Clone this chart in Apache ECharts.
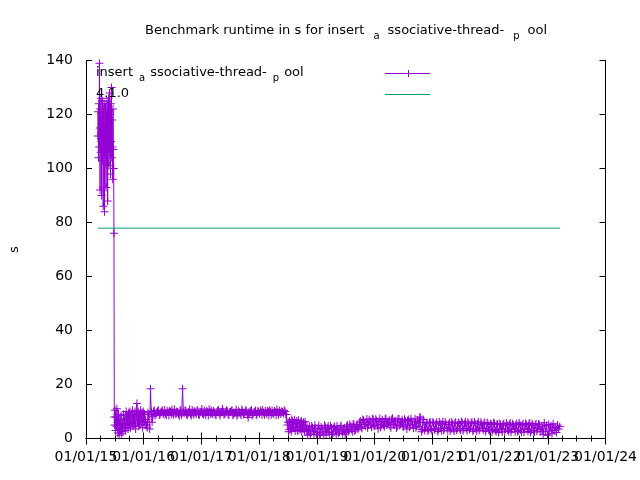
<!DOCTYPE html>
<html>
<head>
<meta charset="utf-8">
<script src="https://cdn.jsdelivr.net/npm/echarts@6/dist/echarts.min.js"></script>
<style>html,body{margin:0;padding:0;background:#fff}#c{width:640px;height:480px}</style>
</head>
<body>
<div id="c"></div>
<script>
var seriesName = 'insert_associative-thread-_pool';
var refName = '4.1.0';
var xTickLabels = ['01/01/15','01/01/16','01/01/17','01/01/18','01/01/19','01/01/20','01/01/21','01/01/22','01/01/23','01/01/24'];
var runDates = [
'2015-03-17','2015-03-19','2015-03-21','2015-03-23','2015-03-25','2015-03-27','2015-03-29','2015-03-31','2015-04-02','2015-04-04','2015-04-06','2015-04-08','2015-04-10','2015-04-12','2015-04-14','2015-04-16','2015-04-18','2015-04-20','2015-04-22','2015-04-24','2015-04-26','2015-04-28','2015-04-30','2015-05-02','2015-05-04','2015-05-06','2015-05-08','2015-05-10','2015-05-12','2015-05-14','2015-05-16','2015-05-18','2015-05-20','2015-05-22','2015-05-24','2015-05-26','2015-05-28','2015-05-30','2015-06-01','2015-06-03','2015-06-05','2015-06-07','2015-06-09','2015-06-11','2015-06-13','2015-06-15','2015-06-17','2015-06-19','2015-06-21','2015-06-23','2015-06-25','2015-06-27','2015-06-29',
'2015-07-01','2015-07-04','2015-07-07','2015-07-10','2015-07-13','2015-07-16','2015-07-19','2015-07-22','2015-07-26','2015-07-30','2015-08-03','2015-08-07','2015-08-11','2015-08-15','2015-08-19','2015-08-23','2015-08-27','2015-08-31','2015-09-04','2015-09-08','2015-09-12','2015-09-16','2015-09-20','2015-09-24','2015-09-28','2015-10-02','2015-10-06','2015-10-10','2015-10-14','2015-10-18','2015-10-22','2015-10-26','2015-10-30','2015-11-03','2015-11-07','2015-11-11','2015-11-15','2015-11-19','2015-11-23','2015-11-27','2015-12-01','2015-12-05','2015-12-09','2015-12-13','2015-12-17','2015-12-21','2015-12-25','2015-12-29','2016-01-02','2016-01-06','2016-01-10',
'2016-01-13','2016-01-23','2016-02-03','2016-02-13','2016-02-23','2016-03-03','2016-03-13','2016-03-23','2016-04-03','2016-04-13','2016-04-23','2016-05-03','2016-05-13','2016-05-23','2016-06-03','2016-06-13','2016-06-23','2016-07-03','2016-07-13','2016-07-23','2016-08-03','2016-08-13','2016-08-23','2016-09-03','2016-09-13','2016-09-23','2016-10-03','2016-10-13','2016-10-23','2016-11-03','2016-11-13','2016-11-23','2016-12-03','2016-12-13','2016-12-23',
'2017-01-03','2017-01-13','2017-01-23','2017-02-03','2017-02-13','2017-02-23','2017-03-03','2017-03-13','2017-03-23','2017-04-03','2017-04-13','2017-04-23','2017-05-03','2017-05-13','2017-05-23','2017-06-03','2017-06-13','2017-06-23','2017-07-03','2017-07-13','2017-07-23','2017-08-03','2017-08-13','2017-08-23','2017-09-03','2017-09-13','2017-09-23','2017-10-03','2017-10-13','2017-10-23','2017-11-03','2017-11-13','2017-11-23','2017-12-03','2017-12-13','2017-12-23',
'2018-01-03','2018-01-13','2018-01-23','2018-02-03','2018-02-13','2018-02-23','2018-03-03','2018-03-13','2018-03-23','2018-04-03','2018-04-13','2018-04-23','2018-05-03','2018-05-13','2018-05-23','2018-06-03','2018-06-13','2018-06-23',
'2018-06-28','2018-07-05','2018-07-12','2018-07-19','2018-07-26','2018-08-02','2018-08-09','2018-08-16','2018-08-23','2018-08-30','2018-09-06','2018-09-13','2018-09-20','2018-09-27','2018-10-04','2018-10-11','2018-10-18',
'2018-10-25','2018-11-04','2018-11-14','2018-11-24','2018-12-04','2018-12-14','2018-12-24','2019-01-03','2019-01-13','2019-01-23','2019-02-03','2019-02-13','2019-02-23','2019-03-03','2019-03-13','2019-03-23','2019-04-03','2019-04-13','2019-04-23','2019-05-03','2019-05-13','2019-05-23','2019-06-03','2019-06-13','2019-06-23','2019-07-03','2019-07-13','2019-07-23','2019-08-03','2019-08-13','2019-08-23','2019-09-03','2019-09-13',
'2019-09-23','2019-10-03','2019-10-13','2019-10-23','2019-11-03','2019-11-13','2019-11-23','2019-12-03','2019-12-13','2019-12-23','2020-01-03','2020-01-13','2020-01-23','2020-02-03','2020-02-13','2020-02-23','2020-03-03','2020-03-13','2020-03-23','2020-04-03','2020-04-13','2020-04-23','2020-05-03','2020-05-13','2020-05-23','2020-06-03','2020-06-13','2020-06-23','2020-07-03','2020-07-13','2020-07-23','2020-08-03','2020-08-13','2020-08-23','2020-09-03','2020-09-13','2020-09-23','2020-10-03',
'2020-10-13','2020-10-23','2020-11-03','2020-11-13','2020-11-23','2020-12-03','2020-12-13','2020-12-23','2021-01-03','2021-01-13','2021-01-23','2021-02-03','2021-02-13','2021-02-23','2021-03-03','2021-03-13','2021-03-23','2021-04-03','2021-04-13','2021-04-23','2021-05-03','2021-05-13','2021-05-23','2021-06-03','2021-06-13','2021-06-23','2021-07-03','2021-07-13','2021-07-23','2021-08-03','2021-08-13','2021-08-23','2021-09-03','2021-09-13','2021-09-23','2021-10-03','2021-10-13','2021-10-23','2021-11-03','2021-11-13','2021-11-23','2021-12-03','2021-12-13','2021-12-23',
'2022-01-03','2022-01-13','2022-01-23','2022-02-03','2022-02-13','2022-02-23','2022-03-03','2022-03-13','2022-03-23','2022-04-03','2022-04-13','2022-04-23','2022-05-03','2022-05-13','2022-05-23','2022-06-03','2022-06-13','2022-06-23','2022-07-03','2022-07-13','2022-07-23','2022-08-03','2022-08-13','2022-08-23','2022-09-03','2022-09-13','2022-09-23','2022-10-03','2022-10-13','2022-10-23','2022-11-03','2022-11-13',
'2022-11-25','2022-12-02','2022-12-09','2022-12-16','2022-12-23','2022-12-30','2023-01-06','2023-01-13','2023-01-20','2023-01-27','2023-02-03','2023-02-10','2023-02-17','2023-02-24','2023-03-03','2023-03-10','2023-03-17'
];
var runValues = [
112,121,104,124,108,139,115,92,122,106,126,110,90,119,103,125,113,86,121,107,124,84,116,105,123,111,93,120,102,125,114,88,122,108,126,101,117,128,106,120,98,124,110,130,104,118,108,96,122,107,100,76,8,
5,10.5,3,8,4.5,11,6,2,9,1.2,7,3,8.5,1.8,5.5,2.5,9,4,7.5,3,10,5,8,3.5,9.5,5,10,4,8.5,6,10.5,4.5,9,5.5,10,3.5,8,13,6,10,4.5,9,5,10.5,6.5,9.5,4,10,6,9,5,
7,4,9,18.4,6,10,8.5,9.6,10.5,8.8,9.9,9.2,10.6,8.6,9.7,10.2,8.9,9.5,10.8,9.0,9.8,8.3,10.1,18.4,9.3,10.4,8.7,9.9,9.1,10.6,8.8,9.7,10.3,9.0,9.6,
10.9,8.9,9.4,10.2,8.5,9.8,10.5,9.1,9.7,8.6,10.3,9.2,9.9,11.0,8.8,9.5,10.1,8.7,9.8,10.4,9.0,9.6,8.4,10.2,9.3,10.7,8.9,9.7,10.0,7.8,9.4,10.5,9.1,9.8,8.6,10.3,
9.2,9.9,10.6,8.8,9.5,10.2,8.5,9.7,10.4,9.0,9.8,10.7,8.7,9.6,10.1,9.3,10.0,8.9,
5,2.5,6.5,3.5,7,4,6,2.8,5.5,3,6.8,4.5,6,2.5,5,3.5,6.2,
3,1.2,4.5,2,4,1.5,3.8,2.2,4.8,1.8,3.5,1.2,4.2,2.5,4.6,1.5,3.9,2.0,4.4,1.4,3.6,2.4,4.8,1.8,4.0,2.2,5.0,3.0,4.5,2.5,5.2,3.2,5.0,
4,6.5,3.8,6.8,4.5,7.2,5.0,6.4,4.2,7.0,4.8,6.6,3.6,7.4,5.2,6.3,4.4,7.1,5.5,6.8,4.0,7.5,5.1,6.2,4.6,7.3,5.4,6.9,4.3,6.5,3.5,7.0,4.9,6.4,3.8,7.2,4.5,6.0,
8,2.5,7,3,5.5,2.8,5.8,3.5,6.0,3.2,5.4,2.6,6.2,3.8,5.6,3.0,6.0,4.0,5.2,2.8,6.1,3.4,5.7,3.1,5.9,3.6,6.3,2.9,5.5,3.7,6.0,3.3,5.8,2.7,6.1,3.5,5.4,3.0,6.0,3.9,5.6,2.6,5.9,3.2,
5.5,2.4,5.8,3.0,5.3,2.2,5.6,3.4,5.0,2.5,5.7,3.1,5.2,2.3,5.5,3.6,5.1,2.6,5.8,3.2,4.9,2.4,5.6,3.5,5.3,2.2,5.5,3.0,5.0,2.7,5.4,3.3,
4.5,1.5,5.8,2.5,4.8,1.2,5.2,2.8,4.6,1.8,5.5,3.0,4.2,2.2,5.0,3.5,4.4
];
// additional runs between the ones above
var moreDates = [
'2016-01-18','2016-01-28','2016-02-08','2016-02-18','2016-02-28','2016-03-08','2016-03-18','2016-03-28','2016-04-08','2016-04-18','2016-04-28','2016-05-08','2016-05-18','2016-05-28','2016-06-08','2016-06-18','2016-06-28','2016-07-08','2016-07-18','2016-07-28','2016-08-08','2016-08-18','2016-08-28','2016-09-08','2016-09-18','2016-09-28','2016-10-08','2016-10-18','2016-10-28','2016-11-08','2016-11-18','2016-11-28','2016-12-08','2016-12-18','2016-12-28',
'2017-01-08','2017-01-18','2017-01-28','2017-02-08','2017-02-18','2017-02-28','2017-03-08','2017-03-18','2017-03-28','2017-04-08','2017-04-18','2017-04-28','2017-05-08','2017-05-18','2017-05-28','2017-06-08','2017-06-18','2017-06-28','2017-07-08','2017-07-18','2017-07-28','2017-08-08','2017-08-18','2017-08-28','2017-09-08','2017-09-18','2017-09-28','2017-10-08','2017-10-18','2017-10-28','2017-11-08','2017-11-18','2017-11-28','2017-12-08','2017-12-18','2017-12-28',
'2018-01-08','2018-01-18','2018-01-28','2018-02-08','2018-02-18','2018-02-28','2018-03-08','2018-03-18','2018-03-28','2018-04-08','2018-04-18','2018-04-28','2018-05-08','2018-05-18','2018-05-28','2018-06-08','2018-06-18',
'2018-07-02','2018-07-09','2018-07-16','2018-07-23','2018-07-30','2018-08-06','2018-08-13','2018-08-20','2018-08-27','2018-09-03','2018-09-10','2018-09-17','2018-09-24','2018-10-01','2018-10-08','2018-10-15','2018-10-21',
'2018-10-30','2018-11-09','2018-11-19','2018-11-29','2018-12-09','2018-12-19','2018-12-29',
'2019-01-08','2019-01-18','2019-01-28','2019-02-08','2019-02-18','2019-02-28','2019-03-08','2019-03-18','2019-03-28','2019-04-08','2019-04-18','2019-04-28','2019-05-08','2019-05-18','2019-05-28','2019-06-08','2019-06-18','2019-06-28','2019-07-08','2019-07-18','2019-07-28','2019-08-08','2019-08-18','2019-08-28','2019-09-08','2019-09-18','2019-09-28','2019-10-08','2019-10-18','2019-10-28','2019-11-08','2019-11-18','2019-11-28','2019-12-08','2019-12-18','2019-12-28',
'2020-01-08','2020-01-18','2020-01-28','2020-02-08','2020-02-18','2020-02-28','2020-03-08','2020-03-18','2020-03-28','2020-04-08','2020-04-18','2020-04-28','2020-05-08','2020-05-18','2020-05-28','2020-06-08','2020-06-18','2020-06-28','2020-07-08','2020-07-18','2020-07-28','2020-08-08','2020-08-18','2020-08-28','2020-09-08','2020-09-18','2020-09-28','2020-10-08','2020-10-18','2020-10-28','2020-11-08','2020-11-18','2020-11-28','2020-12-08','2020-12-18','2020-12-28',
'2021-01-08','2021-01-18','2021-01-28','2021-02-08','2021-02-18','2021-02-28','2021-03-08','2021-03-18','2021-03-28','2021-04-08','2021-04-18','2021-04-28','2021-05-08','2021-05-18','2021-05-28','2021-06-08','2021-06-18','2021-06-28','2021-07-08','2021-07-18','2021-07-28','2021-08-08','2021-08-18','2021-08-28','2021-09-08','2021-09-18','2021-09-28','2021-10-08','2021-10-18','2021-10-28','2021-11-08','2021-11-18','2021-11-28','2021-12-08','2021-12-18','2021-12-28',
'2022-01-08','2022-01-18','2022-01-28','2022-02-08','2022-02-18','2022-02-28','2022-03-08','2022-03-18','2022-03-28','2022-04-08','2022-04-18','2022-04-28','2022-05-08','2022-05-18','2022-05-28','2022-06-08','2022-06-18','2022-06-28','2022-07-08','2022-07-18','2022-07-28','2022-08-08','2022-08-18','2022-08-28','2022-09-08','2022-09-18','2022-09-28','2022-10-08','2022-10-18','2022-10-28','2022-11-08','2022-11-18'
];
var moreValues = [
5,9.5,3.5,10,8.2,10.4,9.0,10.1,8.7,9.6,10.5,8.9,9.3,10.3,8.5,9.9,10.7,8.8,9.4,10.0,9.1,10.6,8.6,9.8,10.2,8.9,9.5,10.8,8.4,9.6,10.1,9.0,10.5,8.7,9.9,
9.2,10.4,8.6,9.7,10.8,9.0,9.4,10.2,8.8,9.9,10.6,8.5,9.6,10.0,9.1,10.5,8.9,9.8,10.3,8.7,9.5,10.7,9.0,9.7,8.6,10.1,9.3,10.6,8.8,9.9,10.2,8.5,9.6,10.4,9.1,9.8,
10.5,8.7,9.6,10.3,9.0,9.9,10.6,8.8,9.4,10.2,8.6,9.7,10.4,9.1,9.8,10.5,8.9,
6.0,3.2,5.8,2.6,6.4,3.8,6.9,4.2,6.5,2.9,5.6,3.3,6.6,3.9,6.0,2.7,4.8,
4.2,3.5,1.6,4.6,2.6,4.9,1.4,
3.7,1.3,4.3,2.4,4.9,1.7,3.8,2.2,4.7,1.6,4.1,2.7,4.6,1.9,4.3,2.8,3.4,1.6,4.4,2.6,5.3,3.4,5.4,2.8,4.6,3.4,6.0,4.3,7.0,5.2,6.0,3.9,6.9,5.3,7.3,4.5,
7.1,5.0,6.2,4.1,6.9,4.7,7.4,5.0,6.1,4.6,7.0,5.3,6.6,3.9,7.2,4.8,6.1,4.5,7.1,5.0,6.7,4.2,7.3,5.1,6.2,4.0,6.8,4.4,7.6,3.3,6.0,3.9,5.9,3.3,6.1,3.0,
5.7,3.6,6.0,3.3,5.5,2.9,6.2,3.7,5.3,3.0,5.9,3.5,5.4,2.7,6.0,3.8,5.6,3.1,5.8,3.5,6.2,3.0,5.5,3.8,6.0,3.2,5.6,2.8,6.1,3.6,5.3,3.1,5.9,3.7,5.5,2.9,
5.2,3.3,5.6,2.6,5.4,3.2,5.1,2.4,5.6,3.5,5.0,2.6,5.7,3.3,4.9,2.5,5.6,3.0,5.2,2.3,5.5,3.4,5.1,2.6,5.7,3.1,4.8,2.4,5.5,3.6,5.1,2.5
];
var refDates = ['2015-03-17','2023-03-20'];
var refValues = [77.9, 77.9];

var F = 'DejaVu Sans';
var TF = 13, SF = 10;
var purple = '#9400d3', green = '#009e73';
var xMin = Date.UTC(2015,0,1), xMax = Date.UTC(2024,0,1);
var xInterval = (xMax - xMin) / (xTickLabels.length - 1);
function ts(s){ return Date.parse(s + 'T00:00:00Z'); }
var runData = runDates.map(function(d,i){ return [ts(d), runValues[i]]; })
  .concat(moreDates.map(function(d,i){ return [ts(d), moreValues[i]]; }))
  .sort(function(a,b){ return a[0] - b[0]; });
var refData = refDates.map(function(d,i){ return [ts(d), refValues[i]]; });
var plus = 'path://M3.5,0h1v3.5h3.5v1h-3.5v3.5h-1v-3.5h-3.5v-1h3.5z';
var subPad = [0, 5, 0, 6];
var titleSubPad = [0, 8, 0, 9];
var subStyle = { fontSize: SF, fontFamily: F, color: '#000', verticalAlign: 'bottom', lineHeight: 21, padding: subPad };
var titleSubStyle = { fontSize: SF, fontFamily: F, color: '#000', verticalAlign: 'bottom', lineHeight: 21, padding: titleSubPad };
var keySubStyle = { fontSize: SF, fontFamily: F, fill: '#000', verticalAlign: 'bottom', lineHeight: 21, padding: subPad };
var richLabel = 'insert{sub|a}ssociative-thread-{sub|p}ool';
var titlePrefix = 'Benchmark runtime in s for ';

var cv = document.createElement('canvas').getContext('2d');
function mw(t, s){ cv.font = s + 'px "' + F + '"'; return cv.measureText(t).width; }
function labelW(pad){ return mw('insert', TF) + mw('ssociative-thread-', TF) + mw('ool', TF) + mw('a', SF) + mw('p', SF) + 2 * (pad[1] + pad[3]); }
var titleW = mw(titlePrefix, TF) + labelW(titleSubPad);
var titleCenter = 346;

// key (legend) layout, gnuplot style: text on the left, sample to the right
var keyTextX = 96, keyRowY = [73, 94], keySampleX = [385, 430];
function keyText(txt, y){
  return { type: 'text', x: keyTextX, y: y, z: 100, silent: true,
    style: { text: txt, fontSize: TF, fontFamily: F, fill: '#000', align: 'left', verticalAlign: 'middle', lineHeight: 21, rich: { sub: keySubStyle } } };
}
function keyLine(y, color){
  return { type: 'line', z: 100, silent: true, shape: { x1: keySampleX[0], y1: y + 0.5, x2: keySampleX[1], y2: y + 0.5 }, style: { stroke: color, lineWidth: 1 } };
}
var midX = Math.round((keySampleX[0] + keySampleX[1]) / 2) + 0.5;

var axisLine = { show: true, lineStyle: { color: '#000', width: 1 } };
function xIdx(v){ return Math.round((v - xMin) / xInterval); }
function xLabEven(v){ var i = xIdx(v); return (i % 2 === 0 && xTickLabels[i]) ? xTickLabels[i] : ''; }
function xLabOdd(v){ var i = xIdx(v); return (i % 2 === 1 && xTickLabels[i]) ? xTickLabels[i] : ''; }
var xLabelStyle = { fontSize: 14, fontFamily: F, color: '#000', margin: 12, hideOverlap: false };

var chart = echarts.init(document.getElementById('c'), null, { renderer: 'canvas' });
chart.setOption({
  animation: false,
  backgroundColor: '#fff',
  title: {
    text: titlePrefix + richLabel,
    left: Math.round(titleCenter - titleW / 2), top: 15, padding: [5, 0, 5, 0],
    textStyle: { fontSize: TF, fontWeight: 'normal', color: '#000', fontFamily: F, lineHeight: 21, rich: { sub: titleSubStyle } }
  },
  graphic: [
    keyText(richLabel, keyRowY[0]),
    keyText(refName, keyRowY[1]),
    keyLine(keyRowY[0], purple),
    { type: 'line', z: 100, silent: true, shape: { x1: midX, y1: keyRowY[0] - 3, x2: midX, y2: keyRowY[0] + 4 }, style: { stroke: purple, lineWidth: 1 } },
    keyLine(keyRowY[1], green)
  ],
  grid: { left: 85, right: 31, top: 60.5, bottom: 41.5 },
  xAxis: [{
    type: 'value', min: xMin, max: xMax, interval: xInterval,
    axisLine: axisLine, splitLine: { show: false },
    axisTick: { inside: true, length: 6, lineStyle: { color: '#000' } },
    minorTick: { show: true, splitNumber: 4, length: 3, lineStyle: { color: '#000' } },
    axisLabel: Object.assign({ formatter: xLabEven, showMinLabel: true, showMaxLabel: true }, xLabelStyle)
  }, {
    type: 'value', position: 'top', min: xMin, max: xMax, interval: xInterval,
    axisLine: axisLine, splitLine: { show: false },
    axisTick: { inside: true, length: 6, lineStyle: { color: '#000' } },
    minorTick: { show: true, splitNumber: 4, length: 3, lineStyle: { color: '#000' } },
    axisLabel: { show: false }
  }, {
    type: 'value', position: 'bottom', offset: 0, min: xMin, max: xMax, interval: xInterval,
    axisLine: { show: false, onZero: false }, splitLine: { show: false },
    axisTick: { show: false }, minorTick: { show: false },
    axisLabel: Object.assign({ formatter: xLabOdd, showMinLabel: true, showMaxLabel: true }, xLabelStyle)
  }],
  yAxis: [{
    type: 'value', min: 0, max: 140, interval: 20,
    name: 's', nameLocation: 'middle', nameGap: 65, nameRotate: 90,
    nameTextStyle: { fontSize: 13, fontFamily: F, color: '#000' },
    axisLine: axisLine, splitLine: { show: false },
    axisTick: { inside: true, length: 6, lineStyle: { color: '#000' } },
    axisLabel: { fontSize: 14, fontFamily: F, color: '#000', margin: 13 }
  }, {
    type: 'value', position: 'right', min: 0, max: 140, interval: 20,
    axisLine: axisLine, splitLine: { show: false },
    axisTick: { inside: true, length: 6, lineStyle: { color: '#000' } },
    axisLabel: { show: false }
  }],
  series: [{
    name: seriesName, type: 'line', data: runData,
    symbol: plus, symbolSize: 8, showAllSymbol: true,
    itemStyle: { color: purple },
    lineStyle: { color: purple, width: 1 }
  }, {
    name: refName, type: 'line', data: refData, symbol: 'none',
    itemStyle: { color: green },
    lineStyle: { color: green, width: 1 }
  }]
});
</script>
</body>
</html>
